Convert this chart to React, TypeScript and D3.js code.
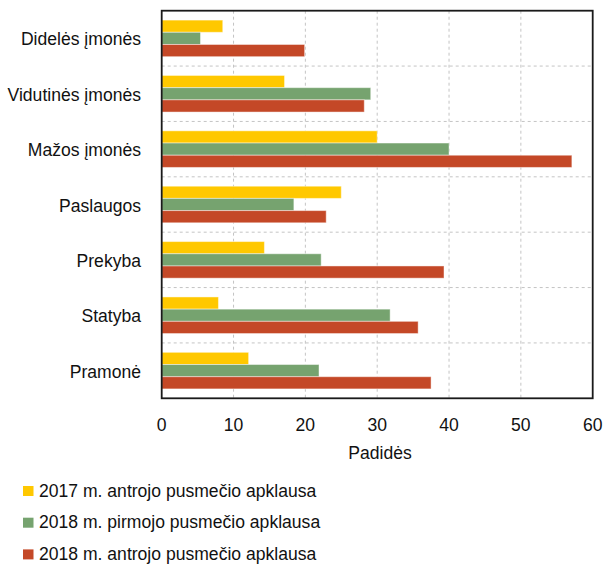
import { useMemo } from 'react';
import * as d3 from 'd3';

const categories = [
  'Didelės įmonės',
  'Vidutinės įmonės',
  'Mažos įmonės',
  'Paslaugos',
  'Prekyba',
  'Statyba',
  'Pramonė',
];

const seriesNames = [
  '2017 m. antrojo pusmečio apklausa',
  '2018 m. pirmojo pusmečio apklausa',
  '2018 m. antrojo pusmečio apklausa',
];

const seriesColors = ['#FFC800', '#76A36F', '#C44827'];

// values per category, same order as categories
const values2017H2 = [8.5, 17.1, 30.0, 25.0, 14.3, 7.9, 12.1];
const values2018H1 = [5.4, 29.1, 40.0, 18.4, 22.2, 31.8, 21.9];
const values2018H2 = [19.9, 28.2, 57.1, 22.9, 39.3, 35.7, 37.5];

const xTickValues = [0, 10, 20, 30, 40, 50, 60];

const W = 606;
const H = 568;
const plot = { left: 161.7, right: 592.7, top: 10.7, bottom: 398.3 };
const FONT = "'Liberation Sans', Arial, sans-serif";
const SX = 0.95; // text is a bit condensed in the reference

const Label = ({ x, y, anchor = 'start', size = 18.5, children }: any) => (
  <text
    transform={`translate(${x},${y}) scale(${SX},1)`}
    textAnchor={anchor}
    fontSize={size}
    fontFamily={FONT}
    fill="#111"
  >
    {children}
  </text>
);

const App = () => {
  const allSeries = [values2017H2, values2018H1, values2018H2];

  const x = useMemo(() => d3.scaleLinear().domain([0, 60]).range([plot.left, plot.right]), []);
  const y = useMemo(
    () => d3.scaleBand<string>().domain(categories).range([plot.top, plot.bottom]).paddingInner(0).paddingOuter(0),
    []
  );
  const inner = useMemo(
    () =>
      d3
        .scaleBand<number>()
        .domain(d3.range(seriesNames.length))
        .range([0, y.bandwidth()])
        .paddingInner(0)
        .paddingOuter(0.77),
    [y]
  );

  return (
    <svg width={W} height={H} style={{ position: 'absolute', left: 0, top: 0, background: '#fff' }}>
      {/* vertical grid */}
      {xTickValues.slice(1, -1).map((t) => (
        <line key={'gx' + t} x1={x(t)} x2={x(t)} y1={plot.top} y2={plot.bottom} stroke="#c4c4c4" strokeDasharray="3,3" />
      ))}
      {/* horizontal grid at category boundaries */}
      {categories.slice(1).map((c) => (
        <line key={'gy' + c} x1={plot.left} x2={plot.right} y1={y(c)!} y2={y(c)!} stroke="#c4c4c4" strokeDasharray="3,3" />
      ))}

      {/* bars */}
      {categories.map((c, ci) => (
        <g key={c} transform={`translate(0,${y(c)})`}>
          {allSeries.map((vals, si) => (
            <rect
              key={si}
              x={x(0)}
              y={inner(si)!}
              width={x(vals[ci]) - x(0)}
              height={inner.bandwidth()}
              fill={seriesColors[si]}
              stroke="#fff"
              strokeOpacity={0.45}
              strokeWidth={1}
            />
          ))}
        </g>
      ))}

      {/* plot frame */}
      <rect
        x={plot.left}
        y={plot.top}
        width={plot.right - plot.left}
        height={plot.bottom - plot.top}
        fill="none"
        stroke="#1a1a1a"
        strokeWidth={1.8}
      />

      {/* category labels */}
      {categories.map((c) => (
        <Label key={'l' + c} x={141} y={y(c)! + y.bandwidth() / 2 + 7} anchor="end">
          {c}
        </Label>
      ))}

      {/* x tick labels */}
      {xTickValues.map((t) => (
        <Label key={'t' + t} x={x(t)} y={431} anchor="middle">
          {t}
        </Label>
      ))}
      <Label x={380} y={459} anchor="middle">
        Padidės
      </Label>

      {/* legend */}
      {seriesNames.map((s, i) => (
        <g key={s}>
          <rect x={23} y={486 + i * 31.7} width={10.5} height={10} fill={seriesColors[i]} />
          <Label x={39} y={496.5 + i * 31.7}>
            {s}
          </Label>
        </g>
      ))}
    </svg>
  );
};

export default App;
